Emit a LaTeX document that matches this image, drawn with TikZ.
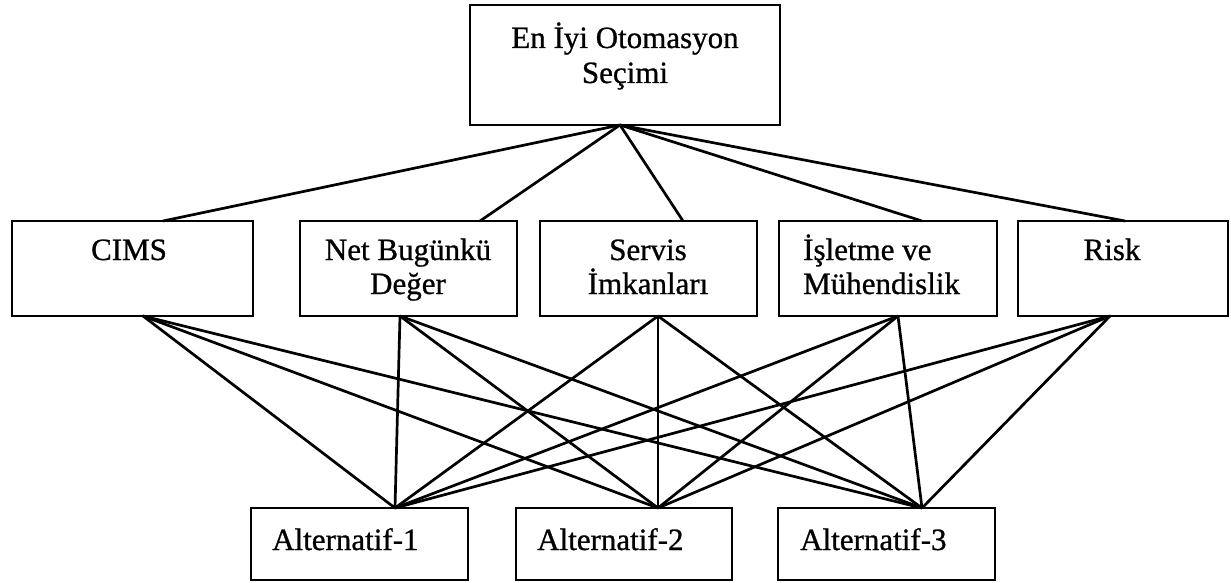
\documentclass[tikz,border=0pt]{standalone}
\usepackage{fontspec}
\setmainfont[FakeBold=0.8]{Liberation Serif}
\begin{document}
\begin{tikzpicture}[x=1pt,y=-1pt,
  box/.style={draw, line width=2.4pt, inner sep=0pt, outer sep=0pt, anchor=north west},
  lbl/.style={font=\fontsize{31}{35}\selectfont, inner sep=0pt, anchor=base},
  lbll/.style={lbl, anchor=base west},
  link/.style={line width=2.7pt}]
\useasboundingbox (0,0) rectangle (1231,583);
% boxes
\node[box, minimum width=310pt, minimum height=120pt] (top) at (470,5) {};
\node[box, minimum width=241pt, minimum height=95pt] (cims) at (12,221) {};
\node[box, minimum width=217pt, minimum height=95pt] (net) at (300,221) {};
\node[box, minimum width=217pt, minimum height=95pt] (ser) at (540,221) {};
\node[box, minimum width=218pt, minimum height=95pt] (isl) at (779,221) {};
\node[box, minimum width=210pt, minimum height=95pt] (risk) at (1018,221) {};
\node[box, minimum width=217pt, minimum height=72pt] (a1) at (251,508) {};
\node[box, minimum width=216pt, minimum height=72pt] (a2) at (516,508) {};
\node[box, minimum width=217pt, minimum height=72pt] (a3) at (778,508) {};
% texts
\node[lbl] (t1) at (625,48) {En İyi Otomasyon};
\node[lbl] (t2) at (625,83) {Seçimi};
\node[lbl] (c1) at (129,260) {CIMS};
\node[lbl] (n1) at (408,260) {Net Bugünkü};
\node[lbl] (n2) at (408,294) {Değer};
\node[lbl] (s1) at (648,260) {Servis};
\node[lbl] (s2) at (648,294) {İmkanları};
\node[lbll] (i1) at (803,260) {İşletme ve};
\node[lbll] (i2) at (803,294) {Mühendislik};
\node[lbl] (r1) at (1112,260) {Risk};
\node[lbll] (l1) at (272,550) {Alternatif-1};
\node[lbll] (l2) at (537,550) {Alternatif-2};
\node[lbll] (l3) at (800,550) {Alternatif-3};
% connection points
\coordinate (topB) at ([xshift=-5pt]top.south);
\coordinate (cimsT) at ([xshift=30.5pt]cims.north);
\coordinate (netT) at ([xshift=71.5pt]net.north);
\coordinate (serT) at ([xshift=34.5pt]ser.north);
\coordinate (islT) at ([xshift=34pt]isl.north);
\coordinate (riskT) at ([xshift=2pt]risk.north);
\coordinate (cimsB) at ([xshift=10.5pt]cims.south);
\coordinate (netB) at ([xshift=-8.5pt]net.south);
\coordinate (serB) at ([xshift=9.5pt]ser.south);
\coordinate (islB) at ([xshift=10pt]isl.south);
\coordinate (riskB) at ([xshift=-13pt]risk.south);
\coordinate (a1T) at ([xshift=35.5pt]a1.north);
\coordinate (a2T) at ([xshift=34pt]a2.north);
\coordinate (a3T) at ([xshift=35.5pt]a3.north);
% connectors
\foreach \m in {cimsT,netT,serT,islT,riskT} \draw[link] (topB) -- (\m);
\foreach \m in {cimsB,netB,serB,islB,riskB}
  \foreach \a in {a1T,a2T,a3T} \draw[link] (\m) -- (\a);
\end{tikzpicture}
\end{document}
